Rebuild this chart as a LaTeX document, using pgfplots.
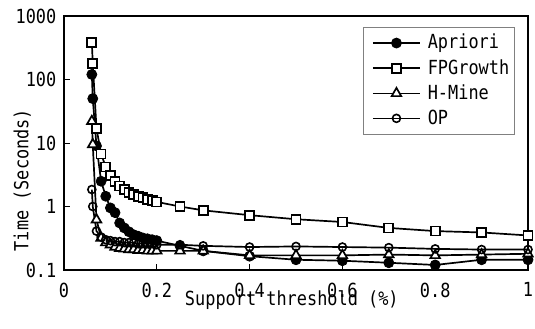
\documentclass[border=0pt]{standalone}
\usepackage{pgfplots}
\pgfplotsset{compat=1.18}
\usepackage{fontspec}
\setmainfont[FakeStretch=0.87]{DejaVu Sans Mono}
\begin{document}
\fontsize{19.5}{22}\selectfont
\begin{tikzpicture}
\begin{axis}[
  scale only axis,
  width=464bp, height=254bp,
  ymode=log,
  xmin=0, xmax=1, ymin=0.1, ymax=1000,
  xtick={0,0.2,0.4,0.6,0.8,1},
  xticklabels={0,0.2,0.4,0.6,0.8,1},
  ytick={0.1,1,10,100,1000},
  yticklabels={0.1,1,10,100,1000},
  minor tick num=0,
  yminorticks=false,
  tick align=inside,
  xtick pos=bottom, ytick pos=left,
  major tick length=6bp,
  tick style={line width=1pt, black},
  axis line style={line width=2.2pt},
  /pgf/number format/assume math mode=true,
  ticklabel style={font=\fontsize{19.5}{22}\selectfont},
  xticklabel style={yshift=-6bp},
  yticklabel style={xshift=-1bp},
  label style={font=\fontsize{19.5}{22}\selectfont},
  xlabel={Support threshold (\%)},
  ylabel={Time (Seconds)},
  xlabel style={at={(axis description cs:0.491,-0.118)}, anchor=center},
  ylabel style={at={(axis description cs:-0.09,0.354)}, anchor=center, rotate=0},
  clip=false,
  legend style={at={(axis description cs:0.644,0.957)}, anchor=north west,
    draw=gray, line width=0.6pt, font=\fontsize{19.5}{22}\selectfont,
    row sep=3.5bp, inner xsep=3bp, inner ysep=5bp},
  legend cell align=left,
  legend image code/.code={\path (0bp,0bp) (58bp,0bp);
    \draw[line width=1.7pt, mark repeat=2,mark phase=2] plot coordinates {(6bp,0bp) (29.5bp,0bp) (53bp,0bp)};},
]
\addplot[black, line width=1.7pt, mark=*, mark size=5bp, mark options={fill=black, line width=0.8pt}] coordinates {
(0.06,120) (0.062,50) (0.07,9) (0.08,2.5) (0.09,1.45) (0.10,0.95) (0.11,0.8) (0.12,0.55) (0.13,0.46) (0.14,0.40) (0.15,0.36) (0.16,0.34) (0.17,0.32) (0.18,0.31) (0.19,0.30) (0.20,0.29) (0.25,0.24) (0.3,0.2) (0.4,0.165) (0.5,0.145) (0.6,0.14) (0.7,0.13) (0.8,0.12) (0.9,0.145) (1.0,0.145)
};
\addlegendentry{Apriori}
\addplot[black, line width=1.7pt, mark=square*, mark size=4.5bp, mark options={fill=white, line width=1.7pt}] coordinates {
(0.06,380) (0.062,180) (0.07,17) (0.08,6.7) (0.09,4.2) (0.10,3.1) (0.11,2.5) (0.12,2.1) (0.13,1.85) (0.14,1.68) (0.15,1.55) (0.16,1.45) (0.17,1.38) (0.18,1.3) (0.19,1.25) (0.20,1.18) (0.25,1.0) (0.3,0.87) (0.4,0.73) (0.5,0.63) (0.6,0.57) (0.7,0.46) (0.8,0.41) (0.9,0.39) (1.0,0.35)
};
\addlegendentry{FPGrowth}
\addplot[black, line width=1.7pt, mark=triangle*, mark size=5.5bp, mark options={fill=white, line width=1.7pt}] coordinates {
(0.06,22) (0.062,9.5) (0.07,0.62) (0.08,0.32) (0.09,0.27) (0.10,0.25) (0.11,0.23) (0.12,0.22) (0.13,0.215) (0.14,0.21) (0.15,0.21) (0.16,0.205) (0.17,0.205) (0.18,0.2) (0.19,0.2) (0.20,0.2) (0.25,0.2) (0.3,0.2) (0.4,0.17) (0.5,0.17) (0.6,0.17) (0.7,0.175) (0.8,0.17) (0.9,0.175) (1.0,0.18)
};
\addlegendentry{H-Mine}
\addplot[black, line width=1.7pt, mark=o, mark size=4bp, mark options={fill=none, line width=1.6pt}] coordinates {
(0.06,1.85) (0.062,1.0) (0.07,0.41) (0.08,0.33) (0.09,0.30) (0.10,0.29) (0.11,0.28) (0.12,0.28) (0.13,0.27) (0.14,0.27) (0.15,0.27) (0.16,0.26) (0.17,0.26) (0.18,0.26) (0.19,0.26) (0.20,0.25) (0.25,0.25) (0.3,0.24) (0.4,0.23) (0.5,0.235) (0.6,0.23) (0.7,0.225) (0.8,0.215) (0.9,0.21) (1.0,0.21)
};
\addlegendentry{OP}
\end{axis}
\pgfresetboundingbox
\path[use as bounding box] ([xshift=-64bp,yshift=-59bp]current axis.south west) rectangle ([xshift=7bp,yshift=16bp]current axis.north east);
\end{tikzpicture}
\end{document}
